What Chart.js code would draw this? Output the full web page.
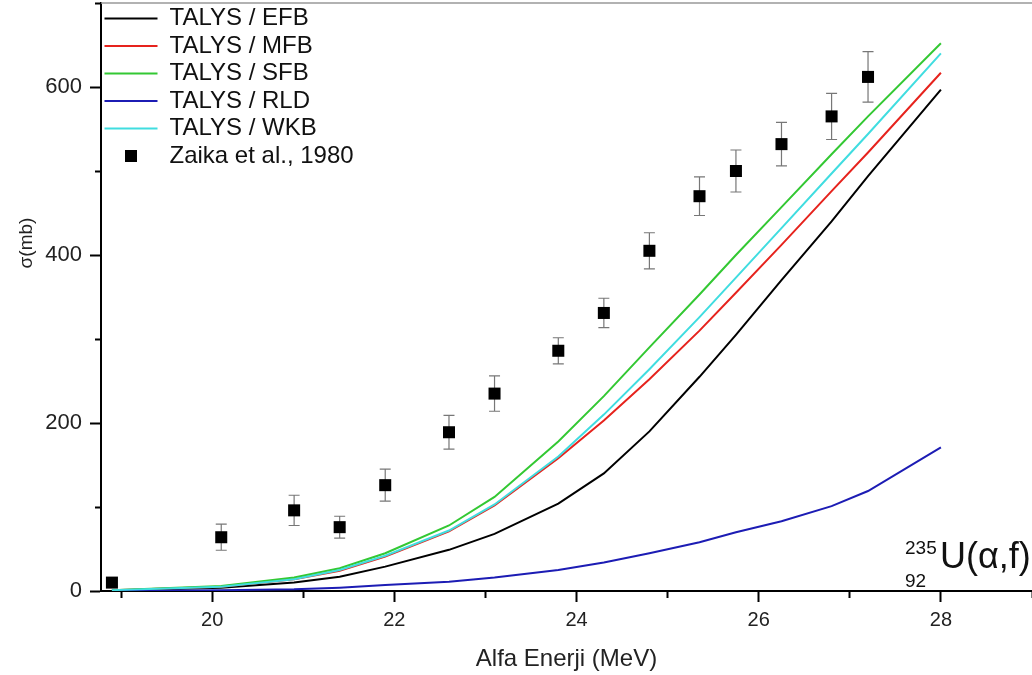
<!DOCTYPE html>
<html lang="tr">
<head>
  <meta charset="UTF-8">
  <title>235U(a,f) TALYS</title>
  <script src="https://cdn.jsdelivr.net/npm/chart.js"></script>
  <style>
    html, body { margin: 0; padding: 0; background: #fff; overflow: hidden; }
    #wrap { width: 1032px; height: 675px; position: relative; }
  </style>
</head>
<body>
<div id="wrap"><canvas id="fissionChart"></canvas></div>

<script>
// enerji noktalari (MeV)
const energies = [18.9, 20.1, 20.9, 21.4, 21.9, 22.6, 23.1, 23.8, 24.3, 24.8, 25.35, 25.75, 26.25, 26.8, 27.2, 28.0];

// TALYS hesaplari (mb)
const efb = [0.5, 4, 10, 17, 29, 49, 68, 104, 140, 190, 255, 305, 370, 440, 494, 597];
const mfb = [1, 5, 14, 24, 41, 71, 102, 158, 203, 252, 310, 355, 412, 476, 522, 617];
const sfb = [1, 6, 16, 27, 45, 78, 112, 178, 232, 290, 353, 400, 457, 520, 565, 652];
const rld = [0, 1, 2, 4, 7, 11, 16, 25, 34, 45, 58, 70, 83, 101, 119, 171];
const wkb = [1, 5, 14, 25, 42, 72, 103, 160, 210, 264, 326, 373, 432, 497, 544, 640];

// deneysel veri - Zaika et al., 1980
const expX = [18.9, 20.1, 20.9, 21.4, 21.9, 22.6, 23.1, 23.8, 24.3, 24.8, 25.35, 25.75, 26.25, 26.8, 27.2];
const expY = [10, 64, 96, 76, 126, 189, 235, 286, 331, 405, 470, 500, 532, 565, 612];
const expErr = [5, 15.5, 18, 13, 19, 20, 21, 15.5, 17.5, 21.5, 23, 25, 26, 27.5, 30];

// eksen tikleri
const xTicks = [19, 20, 21, 22, 23, 24, 25, 26, 27, 28, 29];
const yTicks = [0, 100, 200, 300, 400, 500, 600, 700];

const FONT = "'Liberation Sans', Arial, sans-serif";

function toPoints(xs, ys) {
  return xs.map((x, i) => ({ x: x, y: ys[i] }));
}

function lineSet(label, values, color, order) {
  return {
    label: label,
    data: toPoints(energies, values),
    showLine: true,
    borderColor: color,
    backgroundColor: color,
    borderWidth: 2,
    pointRadius: 0,
    tension: 0,
    fill: false,
    order: order
  };
}

// legend icin kucuk siyah kare
const squareIcon = document.createElement("canvas");
squareIcon.width = 12;
squareIcon.height = 12;
const sqCtx = squareIcon.getContext("2d");
sqCtx.fillStyle = "#000";
sqCtx.fillRect(0, 0, 12, 12);

// hata cubuklari
const errorBars = {
  id: "errorBars",
  beforeDatasetsDraw(chart) {
    const { ctx, scales: { x, y } } = chart;
    ctx.save();
    ctx.strokeStyle = "#777";
    ctx.lineWidth = 1.2;
    expX.forEach((v, i) => {
      const px = x.getPixelForValue(v);
      const top = y.getPixelForValue(expY[i] + expErr[i]);
      const bot = y.getPixelForValue(expY[i] - expErr[i]);
      ctx.beginPath();
      ctx.moveTo(px, top); ctx.lineTo(px, bot);
      ctx.moveTo(px - 5.5, top); ctx.lineTo(px + 5.5, top);
      ctx.moveTo(px - 5.5, bot); ctx.lineTo(px + 5.5, bot);
      ctx.stroke();
    });
    ctx.restore();
  }
};

// ust cerceve, y basligi ve reaksiyon etiketi
const decorations = {
  id: "decorations",
  afterDraw(chart) {
    const { ctx, chartArea: ca } = chart;
    const W = chart.width;
    ctx.save();
    ctx.strokeStyle = "#999";
    ctx.lineWidth = 1.5;
    ctx.beginPath();
    ctx.moveTo(ca.left, ca.top);
    ctx.lineTo(W, ca.top);
    ctx.stroke();

    ctx.fillStyle = "#222";
    ctx.translate(27, 243);
    ctx.rotate(-Math.PI / 2);
    ctx.textAlign = "center";
    ctx.textBaseline = "middle";
    ctx.font = "19px " + FONT;
    ctx.fillText("σ(mb)", 0, 0);
    ctx.restore();

    ctx.save();
    ctx.fillStyle = "#111";
    ctx.textAlign = "left";
    ctx.textBaseline = "alphabetic";
    ctx.font = "36px " + FONT;
    ctx.fillText("U(α,f)", W - 92, ca.bottom - 23);
    ctx.font = "19px " + FONT;
    ctx.fillText("235", W - 127, ca.bottom - 37);
    ctx.fillText("92", W - 127, ca.bottom - 4);
    ctx.restore();
  }
};

new Chart(document.getElementById("fissionChart"), {
  type: "scatter",
  data: {
    datasets: [
      lineSet("TALYS / EFB", efb, "#000000", 6),
      lineSet("TALYS / MFB", mfb, "#e6231d", 5),
      lineSet("TALYS / SFB", sfb, "#33c833", 4),
      lineSet("TALYS / RLD", rld, "#1c1cb4", 3),
      lineSet("TALYS / WKB", wkb, "#40dde0", 2),
      {
        label: "Zaika et al., 1980",
        data: toPoints(expX, expY),
        showLine: false,
        pointStyle: "rect",
        pointRadius: 8.5,
        pointHoverRadius: 8.5,
        backgroundColor: "#000",
        borderColor: "#000",
        borderWidth: 0,
        order: 1
      }
    ]
  },
  options: {
    responsive: true,
    maintainAspectRatio: false,
    animation: false,
    layout: { autoPadding: false, padding: { top: 3, right: 0, bottom: 0, left: 0 } },
    scales: {
      x: {
        type: "linear",
        min: 18.78,
        max: 29,
        afterBuildTicks: s => { s.ticks = xTicks.map(v => ({ value: v })); },
        afterFit: s => {
          s.height = 84;
          s.paddingLeft = 0; s.paddingRight = 0;
        },
        ticks: {
          maxRotation: 0,
          padding: 6,
          color: "#222",
          font: { family: FONT, size: 20 },
          callback: v => (v % 2 === 0 ? String(v) : "")
        },
        grid: {
          drawOnChartArea: false,
          drawTicks: true,
          tickLength: 11,
          tickWidth: 2,
          tickColor: "#000",
          tickBorderDash: c => (c.tick && c.tick.value % 2 === 0 ? [] : [6, 100])
        },
        border: { display: true, color: "#000", width: 2 },
        title: {
          display: true,
          text: "Alfa Enerji (MeV)",
          color: "#222",
          font: { family: FONT, size: 24 },
          padding: { top: 0, bottom: 1 }
        }
      },
      y: {
        type: "linear",
        min: 0,
        max: 700,
        afterBuildTicks: s => { s.ticks = yTicks.map(v => ({ value: v })); },
        afterFit: s => {
          s.width = 101;
          s.paddingTop = 0; s.paddingBottom = 0;
        },
        ticks: {
          padding: 8,
          color: "#222",
          font: { family: FONT, size: 22 },
          callback: v => (v % 200 === 0 ? String(v) : "")
        },
        grid: {
          drawOnChartArea: false,
          drawTicks: true,
          tickLength: 11,
          tickWidth: 2,
          tickColor: "#000",
          tickBorderDash: c => (c.tick && c.tick.value % 200 === 0 ? [] : [0, 5, 6, 100])
        },
        border: { display: true, color: "#000", width: 2 },
        title: { display: false }
      }
    },
    plugins: {
      tooltip: { enabled: false },
      legend: {
        position: "chartArea",
        align: "start",
        title: { display: true, text: "", font: { size: 3, lineHeight: 1 }, padding: 0 },
        labels: {
          usePointStyle: true,
          pointStyleWidth: 53,
          padding: 3.5,
          color: "#111",
          font: { family: FONT, size: 24 },
          generateLabels: chart => {
            const items = Chart.defaults.plugins.legend.labels.generateLabels(chart);
            items.sort((a, b) => a.datasetIndex - b.datasetIndex);
            items.forEach(it => {
              const ds = chart.data.datasets[it.datasetIndex];
              if (ds.showLine) {
                it.pointStyle = "line";
                it.lineWidth = 2;
                it.strokeStyle = ds.borderColor;
              } else {
                it.pointStyle = squareIcon;
              }
            });
            return items;
          }
        }
      }
    }
  },
  plugins: [errorBars, decorations]
});
</script>
</body>
</html>
